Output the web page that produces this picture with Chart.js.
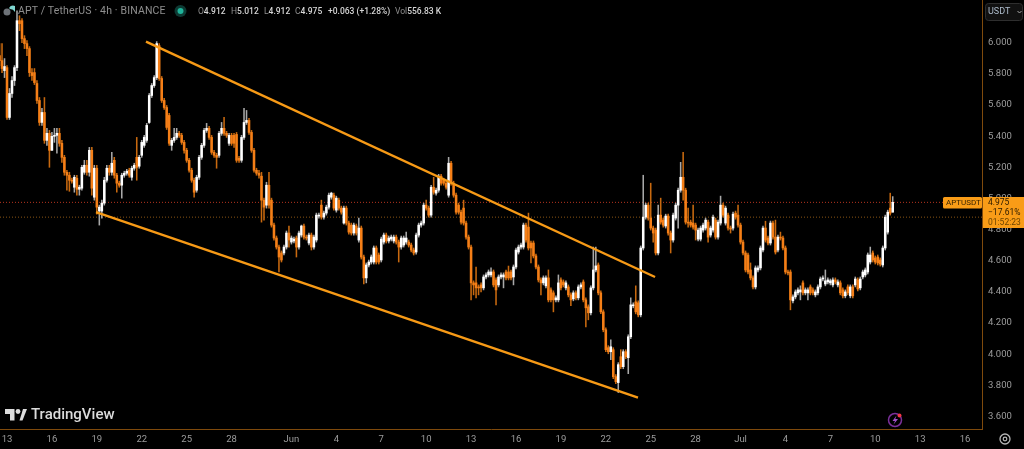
<!DOCTYPE html>
<html>
<head>
<meta charset="utf-8">
<style>
html,body{margin:0;padding:0;background:#000;width:1024px;height:449px;overflow:hidden}
#wrap{position:relative;width:1024px;height:449px;font-family:Roboto,"Open Sans",sans-serif}
canvas{position:absolute;left:0;top:0}
.t{position:absolute;white-space:nowrap;line-height:1}
.g{color:#8f8f8f;font-weight:400}.v{color:#d6d6d6;font-weight:500}
</style>
</head>
<body>
<div id="wrap">
<canvas id="c" width="1024" height="449"></canvas>
<svg style="position:absolute;left:0;top:0" width="1024" height="449">
  <circle cx="7" cy="12" r="3.5" fill="#6d7278"/>
  <path d="M9 8 A5 5 0 0 1 15 6 L15 12 A6 6 0 0 0 10 9Z" fill="#7fd6d0"/>
  <circle cx="180.500" cy="11" r="6" fill="#0d3a33"/>
  <circle cx="180.500" cy="11" r="3" fill="#1fb39a"/>
  <path d="M5 409H14.500V420.500H10V414H5Z" fill="#dcdcdc"/>
  <circle cx="18" cy="411.500" r="2.400" fill="#dcdcdc"/>
  <path d="M19.500 420.500L23 409H27L22.500 420.500Z" fill="#dcdcdc"/>
  <circle cx="895" cy="420" r="6.500" fill="none" stroke="#7b2f9a" stroke-width="1.500"/>
  <path d="M896.500 415.500L892.500 421H895L893.500 424.500L898 419H895.300Z" fill="#a050c8"/>
  <circle cx="899.500" cy="415.500" r="2" fill="#f23645"/>
  <circle cx="1005" cy="439" r="5" fill="none" stroke="#b5b5b5" stroke-width="1.300"/>
  <circle cx="1005" cy="439" r="1.800" fill="none" stroke="#b5b5b5" stroke-width="1.200"/>
  <rect x="985.500" y="3.500" width="37" height="17" rx="3" fill="#111" stroke="#2e2e2e"/>
  <path d="M1017.500 11L1019.500 13L1021.500 11" fill="none" stroke="#aaa"/>
  <rect x="943" y="197" width="39" height="11.500" rx="1.500" fill="#f99c17"/>
  <rect x="983" y="197" width="41" height="31" fill="#f99c17"/>
</svg>
<div class="t g" style="left:18px;top:6px;font-size:10.500px;letter-spacing:.15px">APT / TetherUS · 4h · BINANCE</div>
<div class="t" style="left:198px;top:7px;font-size:8.500px"><span class="g">O</span><span class="v">4.912</span></div>
<div class="t" style="left:231px;top:7px;font-size:8.500px"><span class="g">H</span><span class="v">5.012</span></div>
<div class="t" style="left:264px;top:7px;font-size:8.500px"><span class="g">L</span><span class="v">4.912</span></div>
<div class="t" style="left:295px;top:7px;font-size:8.500px"><span class="g">C</span><span class="v">4.975</span></div>
<div class="t v" style="left:328px;top:7px;font-size:8.500px">+0.063 (+1.28%)</div>
<div class="t" style="left:395px;top:7px;font-size:8.500px"><span class="g">Vol</span><span class="v">556.83 K</span></div>
<div class="t" style="left:31px;top:407px;font-size:15px;font-weight:500;color:#dcdcdc">TradingView</div>
<div class="t" style="left:988px;top:7px;font-size:9px;color:#aebccc">USDT</div>
<div class="t" style="left:946px;top:199px;font-size:8px;color:#3a2400">APTUSDT</div>
<div class="t" style="left:988px;top:198px;font-size:8.500px;color:#2a1a00">4.975</div>
<div class="t" style="left:988px;top:208px;font-size:8.500px;color:#2a1a00">−17.61%</div>
<div class="t" style="left:988px;top:218px;font-size:8.500px;color:#6e4500">01:52:23</div>
</div>
<script src="https://cdn.jsdelivr.net/npm/chart.js@4/dist/chart.umd.min.js"></script>
<script>
const opens = [
5.917,5.885,5.821,5.84,5.52,5.674,5.757,5.84,6.141,6.141,
6.026,5.994,5.962,5.808,5.808,5.738,5.629,5.488,5.552,5.373,
5.418,5.309,5.399,5.405,5.418,5.354,5.264,5.168,5.149,5.117,
5.072,5.13,5.059,5.066,5.168,5.213,5.168,5.309,5.008,5.194,
4.919,4.919,4.97,5.117,5.194,5.168,5.245,5.149,5.098,5.085,
5.149,5.162,5.181,5.136,5.194,5.264,5.207,5.277,5.341,5.373,
5.488,5.661,5.725,5.776,5.981,5.77,5.629,5.584,5.533,5.341,
5.373,5.392,5.418,5.405,5.36,5.309,5.245,5.181,5.117,5.053,
5.136,5.264,5.341,5.437,5.45,5.392,5.296,5.277,5.277,5.418,
5.45,5.418,5.354,5.405,5.405,5.411,5.258,5.245,5.392,5.488,
5.501,5.424,5.309,5.181,5.162,5.143,4.989,4.957,5.085,4.989,
4.829,4.746,4.688,4.65,4.65,4.688,4.778,4.72,4.727,4.746,
4.688,4.765,4.823,4.752,4.714,4.765,4.688,4.733,4.887,4.957,
4.88,4.906,4.944,5.008,5.021,4.925,4.989,4.938,4.842,4.938,
4.842,4.829,4.778,4.823,4.733,4.81,4.624,4.49,4.573,4.592,
4.592,4.682,4.637,4.605,4.72,4.765,4.727,4.739,4.727,4.752,
4.72,4.688,4.701,4.72,4.72,4.701,4.669,4.656,4.765,4.829,
4.842,4.957,4.938,4.893,5.072,5.034,5.053,5.143,5.117,5.098,
5.021,5.226,5.098,5.021,4.957,4.912,4.938,4.842,4.752,4.688,
4.458,4.458,4.432,4.445,4.426,4.496,4.509,4.509,4.528,4.477,
4.445,4.496,4.496,4.528,4.528,4.528,4.496,4.56,4.656,4.688,
4.688,4.829,4.816,4.714,4.714,4.631,4.56,4.477,4.458,4.439,
4.49,4.413,4.394,4.349,4.349,4.477,4.464,4.426,4.432,4.381,
4.355,4.394,4.362,4.432,4.464,4.349,4.304,4.266,4.426,4.541,
4.573,4.394,4.272,4.157,4.042,4.016,4.029,3.856,3.818,3.984,
3.92,4.016,3.978,4.112,4.311,4.336,4.33,4.253,4.682,4.88,
4.957,4.874,4.81,4.797,4.65,4.893,4.861,4.823,4.887,4.778,
4.733,4.874,4.957,5.053,5.136,5.053,4.848,4.848,4.842,4.829,
4.739,4.739,4.797,4.81,4.848,4.765,4.797,4.861,4.752,4.842,
4.957,4.842,4.893,4.81,4.81,4.906,4.893,4.829,4.72,4.65,
4.637,4.541,4.49,4.432,4.541,4.554,4.669,4.81,4.746,4.714,
4.842,4.752,4.669,4.752,4.746,4.682,4.528,4.528,4.343,4.368,
4.394,4.4,4.458,4.394,4.394,4.432,4.413,4.381,4.394,4.432,
4.483,4.451,4.464,4.458,4.445,4.477,4.445,4.458,4.413,4.375,
4.432,4.375,4.432,4.445,4.477,4.426,4.496,4.509,4.528,4.592,
4.65,4.618,4.624,4.605,4.573,4.682,4.784,4.938,4.912];
const closes = [
5.885,5.834,5.847,5.52,5.674,5.757,5.84,6.141,6.122,6.026,
5.994,5.962,5.808,5.789,5.744,5.629,5.488,5.552,5.373,5.418,
5.309,5.399,5.405,5.418,5.354,5.264,5.168,5.149,5.117,5.111,
5.136,5.059,5.072,5.2,5.213,5.168,5.309,5.066,5.194,4.944,
4.944,4.97,5.117,5.194,5.168,5.226,5.149,5.098,5.085,5.149,
5.162,5.175,5.149,5.194,5.213,5.2,5.264,5.36,5.392,5.469,
5.661,5.725,5.776,5.994,5.77,5.629,5.584,5.456,5.354,5.373,
5.392,5.418,5.405,5.36,5.309,5.245,5.181,5.117,5.04,5.136,
5.264,5.341,5.437,5.45,5.392,5.296,5.277,5.264,5.418,5.45,
5.418,5.405,5.405,5.354,5.354,5.245,5.245,5.392,5.488,5.501,
5.424,5.309,5.181,5.162,5.149,4.989,4.944,5.085,4.957,4.829,
4.746,4.688,4.624,4.605,4.688,4.778,4.733,4.746,4.739,4.688,
4.778,4.823,4.752,4.746,4.765,4.688,4.752,4.893,4.893,4.88,
4.906,4.944,5.021,5.034,4.938,5.002,4.938,4.912,4.938,4.842,
4.784,4.778,4.829,4.778,4.81,4.624,4.49,4.573,4.592,4.624,
4.682,4.592,4.592,4.739,4.765,4.727,4.746,4.752,4.752,4.72,
4.688,4.746,4.746,4.746,4.701,4.669,4.65,4.765,4.829,4.842,
4.957,4.938,4.893,5.072,5.04,5.053,5.143,5.098,5.098,5.072,
5.226,5.098,5.021,4.912,4.912,4.848,4.842,4.752,4.688,4.458,
4.445,4.426,4.426,4.426,4.496,4.509,4.528,4.528,4.445,4.413,
4.496,4.509,4.509,4.49,4.49,4.49,4.56,4.669,4.688,4.701,
4.829,4.733,4.682,4.682,4.631,4.56,4.477,4.458,4.49,4.49,
4.349,4.349,4.349,4.362,4.458,4.426,4.445,4.458,4.381,4.349,
4.394,4.362,4.432,4.445,4.349,4.298,4.266,4.426,4.541,4.567,
4.394,4.272,4.157,4.029,4.016,4.048,3.856,3.824,3.933,3.92,
4.016,3.984,4.112,4.317,4.317,4.272,4.253,4.682,4.88,4.957,
4.874,4.81,4.778,4.65,4.893,4.848,4.829,4.887,4.778,4.733,
4.893,4.957,5.053,5.136,5.053,4.848,4.842,4.829,4.816,4.797,
4.797,4.81,4.829,4.861,4.752,4.81,4.88,4.752,4.848,4.957,
4.893,4.938,4.81,4.803,4.899,4.88,4.829,4.72,4.65,4.541,
4.528,4.49,4.432,4.554,4.554,4.682,4.81,4.733,4.714,4.842,
4.752,4.656,4.752,4.746,4.682,4.528,4.522,4.349,4.368,4.4,
4.413,4.413,4.394,4.413,4.413,4.394,4.394,4.4,4.432,4.483,
4.49,4.471,4.477,4.471,4.477,4.464,4.464,4.394,4.375,4.4,
4.394,4.432,4.375,4.483,4.419,4.483,4.528,4.541,4.637,4.637,
4.605,4.592,4.586,4.579,4.682,4.88,4.912,4.906,4.975];
const highs = [
5.994,5.994,5.898,5.853,5.706,5.783,5.853,6.205,6.173,6.154,
6.045,6.013,5.975,5.834,5.834,5.757,5.648,5.578,5.648,5.45,
5.437,5.424,5.45,5.45,5.45,5.373,5.277,5.181,5.168,5.13,
5.149,5.149,5.085,5.213,5.245,5.245,5.328,5.328,5.213,5.213,
4.957,4.989,5.136,5.213,5.213,5.296,5.264,5.162,5.111,5.162,
5.175,5.187,5.194,5.207,5.226,5.392,5.277,5.373,5.405,5.482,
5.674,5.738,5.789,6.007,5.994,5.783,5.642,5.597,5.546,5.386,
5.45,5.45,5.431,5.418,5.373,5.322,5.258,5.194,5.13,5.149,
5.277,5.354,5.45,5.482,5.463,5.405,5.309,5.29,5.431,5.488,
5.52,5.431,5.418,5.418,5.418,5.424,5.271,5.405,5.578,5.565,
5.514,5.437,5.322,5.194,5.181,5.168,5.002,5.104,5.168,5.002,
4.842,4.759,4.701,4.663,4.701,4.791,4.823,4.759,4.752,4.759,
4.791,4.829,4.836,4.765,4.778,4.778,4.765,4.906,4.906,4.989,
4.919,4.957,5.034,5.04,5.034,5.015,5.002,4.951,4.951,4.951,
4.855,4.842,4.842,4.836,4.874,4.823,4.637,4.586,4.605,4.637,
4.695,4.695,4.65,4.752,4.778,4.778,4.759,4.765,4.765,4.765,
4.733,4.759,4.759,4.784,4.733,4.714,4.682,4.778,4.842,4.855,
4.97,4.989,4.951,5.085,5.136,5.066,5.155,5.155,5.13,5.111,
5.264,5.239,5.111,5.034,4.97,4.925,4.989,4.855,4.765,4.701,
4.471,4.56,4.445,4.458,4.509,4.522,4.541,4.554,4.541,4.49,
4.509,4.522,4.522,4.541,4.566,4.541,4.573,4.682,4.701,4.714,
4.842,4.842,4.906,4.727,4.727,4.643,4.573,4.49,4.503,4.503,
4.541,4.426,4.407,4.375,4.509,4.49,4.477,4.471,4.445,4.394,
4.407,4.407,4.445,4.458,4.477,4.362,4.317,4.439,4.688,4.688,
4.586,4.407,4.285,4.17,4.055,4.093,4.042,3.869,3.946,4.029,
4.029,4.029,4.125,4.362,4.33,4.439,4.343,4.695,5.149,4.97,
4.97,5.098,4.823,4.81,4.957,5.002,4.874,4.899,4.899,4.791,
4.906,4.97,5.066,5.232,5.296,5.066,4.938,4.861,4.957,4.842,
4.81,4.823,4.842,4.874,4.861,4.823,4.893,4.874,4.861,5.015,
4.97,4.951,4.906,4.823,4.912,4.919,4.957,4.842,4.733,4.663,
4.65,4.586,4.503,4.567,4.567,4.695,4.823,4.854,4.759,4.855,
4.855,4.861,4.765,4.784,4.759,4.695,4.541,4.541,4.381,4.413,
4.426,4.439,4.471,4.426,4.426,4.445,4.426,4.413,4.445,4.496,
4.503,4.541,4.49,4.483,4.49,4.49,4.477,4.471,4.426,4.413,
4.445,4.445,4.445,4.496,4.49,4.496,4.541,4.554,4.65,4.688,
4.663,4.631,4.637,4.618,4.695,4.893,4.925,5.034,5.012];
const lows = [
5.853,5.808,5.776,5.507,5.507,5.648,5.725,5.821,6.077,6.0,
5.962,5.917,5.783,5.757,5.731,5.61,5.469,5.469,5.354,5.341,
5.2,5.309,5.36,5.29,5.335,5.232,5.149,5.053,5.046,5.098,
5.04,5.021,5.021,5.053,5.155,5.149,5.143,5.021,4.989,4.899,
4.829,4.874,4.957,5.104,5.149,5.149,5.13,5.04,5.072,5.002,
5.136,5.149,5.136,5.117,5.181,5.117,5.194,5.264,5.328,5.36,
5.482,5.648,5.712,5.763,5.757,5.616,5.571,5.443,5.341,5.309,
5.36,5.379,5.392,5.347,5.29,5.232,5.168,5.104,5.008,5.04,
5.123,5.251,5.328,5.424,5.379,5.283,5.264,5.194,5.264,5.405,
5.405,5.392,5.341,5.341,5.328,5.232,5.232,5.232,5.379,5.475,
5.411,5.296,5.168,5.149,5.13,4.848,4.861,4.938,4.938,4.816,
4.733,4.675,4.528,4.592,4.637,4.675,4.688,4.707,4.714,4.624,
4.675,4.752,4.739,4.733,4.701,4.669,4.675,4.72,4.874,4.867,
4.867,4.893,4.931,4.995,4.925,4.912,4.925,4.899,4.835,4.829,
4.771,4.765,4.765,4.765,4.72,4.611,4.451,4.458,4.56,4.579,
4.579,4.579,4.579,4.592,4.707,4.714,4.714,4.727,4.714,4.707,
4.592,4.675,4.688,4.707,4.688,4.656,4.637,4.643,4.752,4.816,
4.829,4.925,4.88,4.88,5.027,5.021,5.04,5.085,5.085,5.059,
5.008,5.085,5.008,4.899,4.899,4.835,4.829,4.739,4.675,4.349,
4.381,4.362,4.381,4.4,4.413,4.483,4.496,4.496,4.432,4.317,
4.432,4.483,4.426,4.477,4.477,4.477,4.445,4.547,4.643,4.675,
4.675,4.72,4.669,4.586,4.618,4.547,4.464,4.381,4.445,4.426,
4.336,4.336,4.272,4.336,4.336,4.413,4.432,4.413,4.368,4.311,
4.343,4.349,4.349,4.419,4.336,4.176,4.221,4.253,4.413,4.528,
4.381,4.26,4.144,4.016,4.003,3.965,3.843,3.811,3.754,3.907,
3.907,3.971,3.875,4.1,4.298,4.259,4.24,4.24,4.669,4.867,
4.861,4.797,4.72,4.637,4.637,4.835,4.816,4.81,4.765,4.65,
4.72,4.861,4.81,5.04,4.989,4.835,4.816,4.816,4.803,4.733,
4.727,4.727,4.784,4.797,4.72,4.752,4.784,4.739,4.739,4.829,
4.88,4.829,4.797,4.778,4.797,4.867,4.816,4.707,4.637,4.528,
4.515,4.477,4.419,4.419,4.528,4.541,4.656,4.72,4.701,4.701,
4.739,4.643,4.656,4.733,4.669,4.515,4.509,4.285,4.33,4.355,
4.381,4.349,4.381,4.381,4.349,4.381,4.381,4.368,4.381,4.419,
4.471,4.439,4.451,4.445,4.432,4.451,4.432,4.381,4.362,4.362,
4.381,4.362,4.362,4.432,4.407,4.413,4.483,4.496,4.515,4.579,
4.592,4.579,4.573,4.566,4.56,4.669,4.771,4.893,4.912];

const firstCandle = -3;          // candles before the 13 May tick
const candlesPerDay = 6;         // 4h bars
const tickDays = [0,3,6,9,12,15,19,22,25,28,31,34,37,40,43,46,49,52,55,58,61,64];
const tickLabels = ['13','16','19','22','25','28','Jun','4','7','10','13','16','19','22','25','28','Jul','4','7','10','13','16'];
const priceTicks = [3.6,3.8,4.0,4.2,4.4,4.6,4.8,5.0,5.2,5.4,5.6,5.8,6.0];
const upperLineDays = [9.285,43.29];
const upperLinePrices = [6.007,4.496];
const lowerLineDays = [5.945,42.15];
const lowerLinePrices = [4.912,3.722];
const lastPrice = 4.975;
const secondLevel = 4.88;
const dayMin = -0.468, dayMax = 65.13, priceMin = 3.52, priceMax = 6.274;

const dayOf = i => (i + firstCandle) / candlesPerDay;
const up = i => closes[i] >= opens[i];
const ORANGE = '#f57f17', WHITE = '#ffffff';
const noPad = s => { s.paddingLeft = s.paddingRight = s.paddingTop = s.paddingBottom = 0; };

new Chart(document.getElementById('c'), {
  type: 'bar',
  data: {
    datasets: [
      { type:'line', order:0, data: upperLineDays.map((d,i)=>({x:d,y:upperLinePrices[i]})), borderColor:'#f79a16', borderWidth:2.4, pointRadius:0, tension:0 },
      { type:'line', order:0, data: lowerLineDays.map((d,i)=>({x:d,y:lowerLinePrices[i]})), borderColor:'#f79a16', borderWidth:2.4, pointRadius:0, tension:0 },
      { type:'bar', order:1, grouped:false, barThickness:1.9, borderWidth:0,
        data: opens.map((o,i)=>({x:dayOf(i),y:[o,closes[i]]})),
        backgroundColor: opens.map((_,i)=>up(i)?WHITE:ORANGE) },
      { type:'bar', order:2, grouped:false, barThickness:0.9, borderWidth:0,
        data: highs.map((h,i)=>({x:dayOf(i),y:[lows[i],h]})),
        backgroundColor: opens.map((_,i)=>up(i)?'#a8a8a8':'#c8690f') },
      { type:'line', order:3, data:[{x:dayMin,y:lastPrice},{x:dayMax,y:lastPrice}], borderColor:'#b8351f', borderWidth:1, borderDash:[1,2], pointRadius:0 },
      { type:'line', order:3, data:[{x:dayMin,y:secondLevel},{x:dayMax,y:secondLevel}], borderColor:'#8a5414', borderWidth:1, borderDash:[1,2], pointRadius:0 }
    ]
  },
  options: {
    responsive:false, animation:false,
    layout:{padding:0},
    plugins:{legend:{display:false},tooltip:{enabled:false},title:{display:false}},
    scales:{
      x:{ type:'linear', min:dayMin, max:dayMax, offset:false,
        grid:{display:false,drawTicks:false}, border:{color:'#7f4a0c',width:1},
        afterBuildTicks:s=>{s.ticks=tickDays.map(v=>({value:v}));},
        afterFit:s=>{s.height=20;noPad(s);},
        ticks:{autoSkip:false,maxRotation:0,padding:5,color:'#9c9c9c',font:{family:'Roboto',size:9.5},
          callback:(v,i)=>tickLabels[i]} },
      y:{ type:'linear', position:'right', min:priceMin, max:priceMax,
        grid:{display:false,drawTicks:false}, border:{color:'#7f4a0c',width:1},
        afterBuildTicks:s=>{s.ticks=priceTicks.map(v=>({value:v}));},
        afterFit:s=>{s.width=42;noPad(s);},
        ticks:{autoSkip:false,padding:6,color:'#9c9c9c',font:{family:'Roboto',size:9.5},
          callback:v=>v.toFixed(3)} }
    }
  }
});
</script>
</body>
</html>
